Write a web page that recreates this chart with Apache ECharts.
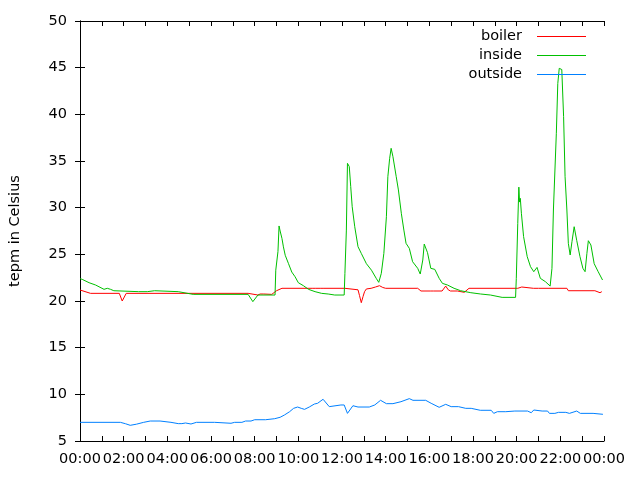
<!DOCTYPE html>
<html>
<head>
<meta charset="utf-8">
<script src="https://cdn.jsdelivr.net/npm/echarts@6/dist/echarts.min.js"></script>
<style>html,body{margin:0;padding:0;background:#fff}#c{width:640px;height:480px}</style>
</head>
<body>
<div id="c"></div>
<script>
// time in minutes since 00:00, value in degrees Celsius
const seriesNames = ['boiler', 'inside', 'outside'];
const xTickLabels = ['00:00','02:00','04:00','06:00','08:00','10:00','12:00','14:00','16:00','18:00','20:00','22:00','00:00'];
const yTicks = [5,10,15,20,25,30,35,40,45,50];

const boiler = [[0,21.18],[29,20.82],[108,20.82],[116,20.0],[127,20.82],[462,20.82],[465,20.64],[489,20.64],[495,20.75],[505,20.75],[510,20.64],[527,20.71],[540,21.1],[555,21.36],[640,21.36],[642,21.45],[648,21.36],[660,21.36],[662,21.45],[668,21.36],[728,21.36],[764,21.2],[768,20.6],[773,19.82],[778,20.5],[782,21.0],[787,21.29],[800,21.36],[812,21.5],[823,21.64],[832,21.45],[840,21.36],[928,21.36],[937,21.07],[964,21.07],[968,21.15],[972,21.07],[995,21.07],[1005,21.6],[1012,21.2],[1018,21.07],[1037,21.07],[1042,20.93],[1056,20.93],[1069,21.36],[1203,21.36],[1206,21.5],[1214,21.5],[1217,21.36],[1246,21.36],[1248,21.5],[1251,21.36],[1260,21.36],[1262,21.5],[1265,21.36],[1338,21.36],[1342,21.1],[1415,21.1],[1420,20.89],[1429,20.89],[1434,21.0]];

const inside = [[0,22.4],[6,22.32],[25,21.96],[43,21.71],[66,21.25],[75,21.36],[84,21.25],[93,21.1],[161,21.0],[185,21.0],[190,21.1],[205,21.1],[210,21.0],[270,21.0],[275,20.82],[311,20.71],[462,20.71],[475,19.93],[489,20.64],[536,20.64],[538,23.3],[544,25.3],[547,28.04],[550,27.5],[555,26.7],[559,25.8],[564,24.9],[573,24.0],[582,23.1],[591,22.6],[600,21.96],[614,21.64],[628,21.25],[646,21.0],[664,20.82],[682,20.75],[700,20.64],[726,20.64],[728,22.96],[732,27.6],[735,34.75],[740,34.4],[744,32.25],[748,30.1],[755,27.96],[764,25.82],[773,25.1],[787,24.0],[801,23.3],[814,22.43],[821,22.0],[823,21.96],[828,22.96],[835,25.1],[842,29.03],[846,33.32],[851,35.29],[855,36.36],[860,35.46],[869,33.32],[875,31.9],[883,29.4],[890,27.6],[896,26.18],[905,25.64],[914,24.21],[928,23.5],[935,22.89],[942,24.39],[946,26.1],[955,25.18],[964,23.5],[975,23.39],[987,22.43],[996,21.89],[1010,21.71],[1028,21.36],[1046,21.1],[1074,20.89],[1101,20.75],[1128,20.64],[1160,20.39],[1197,20.39],[1199,22.43],[1203,28.3],[1206,32.2],[1208,30.6],[1210,31.0],[1213,29.4],[1219,26.9],[1229,24.75],[1238,23.68],[1247,23.14],[1256,23.6],[1265,22.43],[1279,22.07],[1292,21.6],[1297,23.5],[1301,29.75],[1309,37.97],[1313,43.3],[1317,44.93],[1324,44.8],[1327,44.9],[1329,39.75],[1333,33.32],[1338,29.75],[1342,26.18],[1347,24.93],[1352,26.36],[1358,27.96],[1365,26.5],[1374,24.75],[1382,23.5],[1388,23.14],[1393,25.1],[1397,26.46],[1404,26.0],[1413,24.0],[1424,23.14],[1436,22.25]];

const outside = [[0,7.0],[111,7.0],[125,6.85],[138,6.68],[155,6.8],[175,7.0],[193,7.14],[220,7.14],[225,7.0],[250,7.0],[270,6.86],[280,6.86],[290,6.93],[305,6.82],[320,7.0],[370,7.0],[375,6.9],[415,6.9],[425,7.0],[445,7.0],[455,7.14],[470,7.14],[480,7.28],[510,7.28],[515,7.39],[535,7.39],[540,7.54],[550,7.54],[562,7.79],[576,8.14],[587,8.5],[598,8.64],[608,8.5],[617,8.39],[630,8.64],[644,8.96],[653,9.04],[668,9.47],[685,8.68],[717,8.86],[726,8.86],[735,7.96],[750,8.78],[764,8.64],[795,8.64],[810,8.86],[826,9.36],[842,9.0],[860,9.0],[882,9.21],[905,9.54],[915,9.36],[950,9.36],[965,9.04],[987,8.61],[1005,8.93],[1020,8.68],[1040,8.68],[1060,8.5],[1075,8.5],[1100,8.29],[1130,8.29],[1137,7.96],[1147,8.14],[1170,8.14],[1175,7.96],[1195,8.21],[1230,8.21],[1240,8.03],[1247,8.32],[1270,8.21],[1285,8.21],[1290,7.96],[1305,7.96],[1315,8.07],[1335,8.07],[1345,7.96],[1365,8.21],[1375,7.96],[1410,7.96],[1415,7.86],[1437,7.86]];

const colors = ['#ff0000', '#00c000', '#0080ff'];
const font = 'DejaVu Sans';
const fs = 14.5;

const chart = echarts.init(document.getElementById('c'), null, {renderer: 'canvas'});
const axisLine = {show: true, lineStyle: {color: '#000', width: 1}};
const tick = {show: true, inside: true, length: 5, lineStyle: {color: '#000', width: 1}};
const xBase = {type: 'value', min: 0, max: 1440, interval: 60, splitLine: {show: false}, axisLine: axisLine, axisTick: tick};
const yBase = {type: 'value', min: yTicks[0], max: yTicks[yTicks.length-1], interval: 5, splitLine: {show: false}, axisLine: axisLine, axisTick: tick};

chart.setOption({
  animation: false,
  backgroundColor: '#fff',
  grid: {left: 77, right: 36, top: 21, bottom: 39, containLabel: false},
  legend: {
    data: seriesNames, orient: 'vertical', right: 49, top: 24, align: 'right',
    icon: 'rect', itemWidth: 49, itemHeight: 1, itemGap: 4,
    textStyle: {fontFamily: font, fontSize: fs, color: '#000', padding: [0, 10, 0, 0]}
  },
  xAxis: [
    Object.assign({}, xBase, {position: 'bottom',
      axisLabel: {show: true, margin: 11, fontFamily: font, fontSize: fs, color: '#000', showMinLabel: true, showMaxLabel: true,
        formatter: function (v) { return (v % 120 === 0) ? xTickLabels[v / 120] : ''; }}}),
    Object.assign({}, xBase, {position: 'top', axisLabel: {show: false}})
  ],
  yAxis: [
    Object.assign({}, yBase, {position: 'left', name: 'tepm in Celsius', nameLocation: 'middle', nameGap: 57,
      nameTextStyle: {fontFamily: font, fontSize: fs, color: '#000'},
      axisLabel: {show: true, margin: 13, fontFamily: font, fontSize: fs, color: '#000', showMinLabel: true, showMaxLabel: true}}),
    Object.assign({}, yBase, {position: 'right', axisLabel: {show: false}})
  ],
  series: [
    {name: 'boiler', type: 'line', data: boiler, symbol: 'none', lineStyle: {width: 1, color: colors[0]}, itemStyle: {color: colors[0]}},
    {name: 'inside', type: 'line', data: inside, symbol: 'none', lineStyle: {width: 1, color: colors[1]}, itemStyle: {color: colors[1]}},
    {name: 'outside', type: 'line', data: outside, symbol: 'none', lineStyle: {width: 1, color: colors[2]}, itemStyle: {color: colors[2]}}
  ]
});
</script>
</body>
</html>
